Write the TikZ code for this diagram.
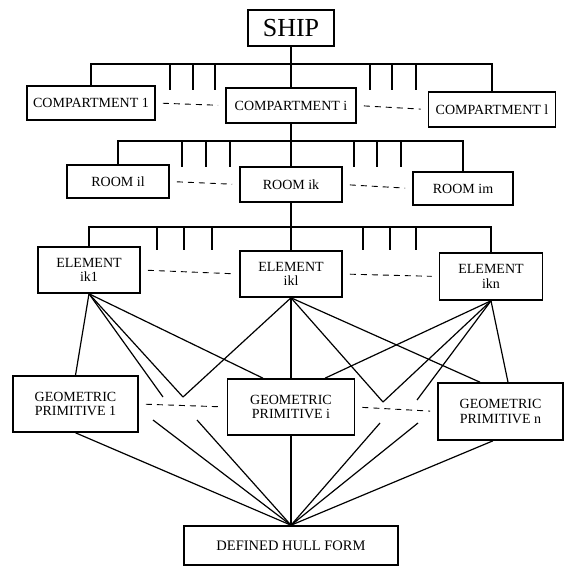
\documentclass[tikz,border=0pt]{standalone}
\usepackage{fontspec}
\setmainfont{Liberation Serif}
\usetikzlibrary{arrows}

\begin{document}
\begin{tikzpicture}[x=1pt,y=-1pt,line width=1.2pt,
    box/.style={draw,line width=1.6pt,align=center,inner sep=1pt,font=\fontsize{14}{14.5}\selectfont},
    gap/.style={dash pattern=on 6pt off 5pt,line width=0.9pt,shorten <=7pt,shorten >=7pt}]

  \useasboundingbox (0,0) rectangle (572,567);

  % Nodes
  % Ship
  \node[box,minimum width=86,minimum height=36,font=\fontsize{26}{28}\selectfont] (ship) at (291,28) {SHIP};

  % Compartments
  \node[box,minimum width=128,minimum height=34] (comp1) at (91,103) {COMPARTMENT 1};
  \node[box,minimum width=130,minimum height=35] (compi) at (291,105.5) {COMPARTMENT i};
  \node[box,minimum width=127,minimum height=35] (compl) at (492,109.5) {COMPARTMENT l};

  % Rooms
  \node[box,minimum width=102,minimum height=33] (rooml) at (118,181.5) {ROOM il};
  \node[box,minimum width=102,minimum height=35] (roomk) at (291,184.5) {ROOM ik};
  \node[box,minimum width=100,minimum height=33] (roomm) at (463,188.5) {ROOM im};

  % Elements
  \node[box,minimum width=102,minimum height=46] (elem1) at (89,270) {ELEMENT\\ik1};
  \node[box,minimum width=102,minimum height=46] (elemk) at (291,274) {ELEMENT\\ikl};
  \node[box,minimum width=103,minimum height=47] (elemn) at (491,276.5) {ELEMENT\\ikn};

  % Geometric primitives
  \node[box,minimum width=125,minimum height=56] (gp1) at (75.5,404) {GEOMETRIC\\PRIMITIVE 1};
  \node[box,minimum width=127,minimum height=56] (gpi) at (291,407) {GEOMETRIC\\PRIMITIVE i};
  \node[box,minimum width=125,minimum height=57] (gpn) at (500.5,411.5) {GEOMETRIC\\PRIMITIVE n};

  % Hull
  \node[box,minimum width=214,minimum height=39,font=\fontsize{14.5}{15}\selectfont] (hull) at (291,545.5) {DEFINED HULL FORM};

  % Bus points and loose ends
  \coordinate (bus1) at (291,64);
  \coordinate (bus2) at (291,141);
  \coordinate (bus3) at (291,227);
  \coordinate (f1) at (163,397);
  \coordinate (v1) at (183,397);
  \coordinate (v2) at (383,402);
  \coordinate (f2) at (417,400);
  \coordinate (f3) at (153,420);
  \coordinate (f4) at (197,420);
  \coordinate (f5) at (380,423);
  \coordinate (f6) at (418,423);

  % Edges
  % Tree part
  \draw (ship) -- (compi);
  \draw (comp1.north) |- (bus1) -| (compl.north);
  \foreach \x in {170,193,215,370,392,416}
    \draw (\x,64) -- (\x,90);

  \draw (compi) -- (roomk);
  \draw (rooml.north) |- (bus2) -| (roomm.north);
  \foreach \x in {182,206,230,354,377,401}
    \draw (\x,141) -- (\x,167);

  \draw (roomk) -- (elemk);
  \draw (elem1.north) |- (bus3) -| (elemn.north);
  \foreach \x in {157,184,212,363,390,416}
    \draw (\x,227) -- (\x,250);

  % Dashed gaps
  \draw[gap] (comp1.east) -- (compi.west);
  \draw[gap] (compi.east) -- (compl.west);
  \draw[gap] (rooml.east) -- (roomk.west);
  \draw[gap] (roomk.east) -- (roomm.west);
  \draw[gap] (elem1.east) -- (elemk.west);
  \draw[gap] (elemk.east) -- (elemn.west);
  \draw[gap] (gp1.east) -- (gpi.west);
  \draw[gap] (gpi.east) -- (gpn.west);

  % Elements to primitives
  \draw (elem1.south) -- (gp1.north);
  \draw (elem1.south) -- (f1);
  \draw (elem1.south) -- (v1);
  \draw (elem1.south) -- (263,0 |- gpi.north);

  \draw (elemk.south) -- (v1);
  \draw (elemk.south) -- (gpi.north);
  \draw (elemk.south) -- (v2);
  \draw (elemk.south) -- (480,0 |- gpn.north);

  \draw (elemn.south) -- (325,0 |- gpi.north);
  \draw (elemn.south) -- (v2);
  \draw (elemn.south) -- (f2);
  \draw (elemn.south) -- (508,0 |- gpn.north);

  % Primitives to hull
  \draw (gp1.south) -- (hull.north);
  \draw (f3) -- (hull.north);
  \draw (f4) -- (hull.north);
  \draw (gpi.south) -- (hull.north);
  \draw (f5) -- (hull.north);
  \draw (f6) -- (hull.north);
  \draw (493,0 |- gpn.south) -- (hull.north);
\end{tikzpicture}
\end{document}
